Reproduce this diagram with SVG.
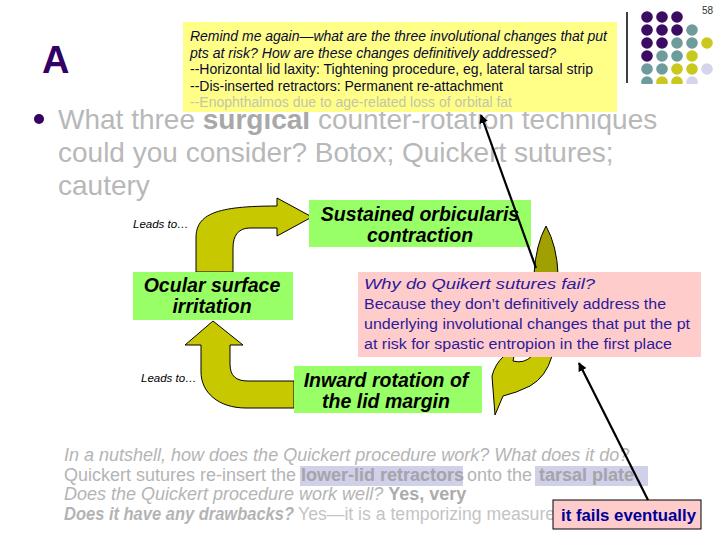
<svg xmlns="http://www.w3.org/2000/svg" width="720" height="540" viewBox="0 0 720 540">
<defs>
<style>
text{font-family:"Liberation Sans",Arial,sans-serif}
.grayt{fill:#b8b8b8}
.note{fill:#ffff88}
.pink{fill:#ffcccc}
.green{fill:#99ff66}
.gtxt{font-size:19.5px;font-weight:bold;font-style:italic;fill:#000;text-anchor:middle}
.ylw{font-size:14px;fill:#0a0a33}
.pt{font-size:15.5px;fill:#2e1a99}
.bt{font-size:18px;fill:#b4b4b4}
.arrowfill{fill:#c8c800;stroke:#000;stroke-width:1}
.dark{fill:#a0a000;stroke:#000;stroke-width:1}
.conn{stroke:#000;stroke-width:2.2;fill:none}
.lead{font-size:11.5px;font-style:italic;fill:#000}
.dP{fill:#3a0c62}.dT{fill:#6e9c9c}.dY{fill:#c8c81e}.dL{fill:#d4d4ec}
</style>
<marker id="ah" viewBox="0 0 10 10" refX="9" refY="5" markerWidth="4" markerHeight="4" orient="auto" markerUnits="strokeWidth">
<path d="M0,0 L10,5 L0,10 z" fill="#000"/>
</marker>
<clipPath id="dotclip"><rect x="630" y="0" width="90" height="84"/></clipPath>
</defs>
<rect width="720" height="540" fill="#fff"/>

<g id="page-number"><text x="702" y="14" font-size="10" fill="#333">58</text></g>

<g id="decor">
<line x1="627" y1="12" x2="627" y2="83" stroke="#000" stroke-width="1.5"/>
<g clip-path="url(#dotclip)">
<circle class="dP" cx="647" cy="17" r="5.8"/><circle class="dP" cx="662" cy="17" r="5.8"/><circle class="dP" cx="677" cy="17" r="5.8"/>
<circle class="dP" cx="647" cy="30" r="5.8"/><circle class="dP" cx="662" cy="30" r="5.8"/><circle class="dP" cx="677" cy="30" r="5.8"/><circle class="dT" cx="692" cy="30" r="5.8"/>
<circle class="dP" cx="647" cy="43" r="5.8"/><circle class="dP" cx="662" cy="43" r="5.8"/><circle class="dT" cx="677" cy="43" r="5.8"/><circle class="dT" cx="692" cy="43" r="5.8"/><circle class="dY" cx="707" cy="43" r="5.8"/>
<circle class="dP" cx="647" cy="56" r="5.8"/><circle class="dT" cx="662" cy="56" r="5.8"/><circle class="dT" cx="677" cy="56" r="5.8"/><circle class="dY" cx="692" cy="56" r="5.8"/>
<circle class="dT" cx="647" cy="69" r="5.8"/><circle class="dT" cx="662" cy="69" r="5.8"/><circle class="dY" cx="677" cy="69" r="5.8"/><circle class="dY" cx="692" cy="69" r="5.8"/><circle class="dL" cx="707" cy="69" r="5.8"/>
<circle class="dT" cx="647" cy="82" r="5.8"/><circle class="dY" cx="662" cy="82" r="5.8"/><circle class="dY" cx="677" cy="82" r="5.8"/><circle class="dL" cx="692" cy="82" r="5.8"/>
</g>
</g>

<g id="title"><text x="42" y="73" font-size="38" font-weight="bold" fill="#330066">A</text></g>

<g id="bullet">
<circle cx="39" cy="119" r="5" fill="#330066"/>
<text x="58" y="129" font-size="28" class="grayt">What three <tspan font-weight="bold" fill="#a8a8a8">surgical</tspan> counter-rotation techniques</text>
<text x="58" y="162" font-size="28" class="grayt">could you consider? Botox; Quickert sutures;</text>
<text x="58" y="195" font-size="28" class="grayt">cautery</text>
</g>

<g id="note-remind">
<rect class="note" x="183" y="22" width="434" height="90"/>
<text class="ylw" x="190" y="41" font-style="italic" textLength="417" lengthAdjust="spacingAndGlyphs">Remind me again—what are the three involutional changes that put</text>
<text class="ylw" x="190" y="57.5" font-style="italic" textLength="366" lengthAdjust="spacingAndGlyphs">pts at risk? How are these changes definitively addressed?</text>
<text class="ylw" x="190" y="74" textLength="403" lengthAdjust="spacingAndGlyphs">--Horizontal lid laxity: Tightening procedure, eg, lateral tarsal strip</text>
<text class="ylw" x="190" y="90.5" textLength="313" lengthAdjust="spacingAndGlyphs">--Dis-inserted retractors: Permanent re-attachment</text>
<text class="ylw" x="190" y="106.5" style="fill:#c4c4a8" textLength="322" lengthAdjust="spacingAndGlyphs">--Enophthalmos due to age-related loss of orbital fat</text>
</g>

<g id="connectors">
<path id="arrow-ocular-to-sustained" class="arrowfill" d="M196,272 L196,238 C196,214 216,206 277,206 L277,198 L312,217 L277,236 L277,228 L250,228 C238,228 233,236 233,248 L233,272 Z"/>
<path id="arrow-inward-to-ocular" class="arrowfill" d="M294,408 L246,408 C218,408 201,392 201,372 L201,345 L185,345 L213,321 L243,345 L230,345 L230,364 C230,376 236,381 248,381 L294,381 Z"/>
<g id="arrow-sustained-to-inward">
<path class="dark" d="M534,274 Q536,244 546,226 Q557,246 558,274 Z"/>
<path class="arrowfill" d="M504,356 L552,356 Q546,377 530,386 Q516,393 503,396 L495,415 L492,376 Q495,364 504,356 Z"/>
<path d="M514,356 L532,356 Q524,364 513,361 Z" fill="#fff" stroke="#000" stroke-width="1"/>
</g>
</g>

<g id="node-sustained">
<rect class="green" x="309" y="200" width="222" height="47"/>
<text class="gtxt" x="420" y="221">Sustained orbicularis</text>
<text class="gtxt" x="420" y="242">contraction</text>
</g>

<g id="node-ocular">
<rect class="green" x="133" y="272" width="160" height="48"/>
<text class="gtxt" x="212" y="292">Ocular surface</text>
<text class="gtxt" x="212" y="313">irritation</text>
</g>

<g id="node-inward">
<rect class="green" x="294" y="366" width="188" height="47"/>
<text class="gtxt" x="386" y="387">Inward rotation of</text>
<text class="gtxt" x="386" y="408">the lid margin</text>
</g>

<g id="labels">
<text class="lead" x="133" y="228">Leads to…</text>
<text class="lead" x="141" y="382">Leads to…</text>
</g>

<g id="note-why">
<rect class="pink" x="358" y="272" width="343" height="85"/>
<text class="pt" x="364" y="289" font-style="italic" textLength="231" lengthAdjust="spacingAndGlyphs">Why do Quikert sutures fail?</text>
<text class="pt" x="364" y="309" textLength="302" lengthAdjust="spacingAndGlyphs">Because they don’t definitively address the</text>
<text class="pt" x="364" y="329" textLength="326" lengthAdjust="spacingAndGlyphs">underlying involutional changes that put the pt</text>
<text class="pt" x="364" y="349" textLength="308" lengthAdjust="spacingAndGlyphs">at risk for spastic entropion in the first place</text>
</g>

<g id="summary">
<rect x="300" y="466" width="163" height="20" fill="#d0d0e8"/>
<rect x="535" y="466" width="113" height="20" fill="#d0d0e8"/>
<text class="bt" x="64" y="461" font-style="italic">In a nutshell, how does the Quickert procedure work? What does it do?</text>
<text class="bt" x="64" y="481">Quickert sutures re-insert the</text>
<text class="bt" x="301" y="481" font-weight="bold" style="fill:#a4a4ac">lower-lid retractors</text>
<text class="bt" x="467" y="481">onto the</text>
<text class="bt" x="539" y="481" font-weight="bold" style="fill:#a4a4ac">tarsal plate</text>
<text class="bt" x="64" y="500" font-style="italic">Does the Quickert procedure work well? <tspan font-style="normal" font-weight="bold" fill="#acacac">Yes, very</tspan></text>
<text class="bt" x="64" y="520" font-style="italic" font-weight="bold" textLength="230" lengthAdjust="spacingAndGlyphs">Does it have any drawbacks?</text>
<text class="bt" x="298" y="520" style="fill:#c4c4c4" textLength="262" lengthAdjust="spacingAndGlyphs">Yes—it is a temporizing measure;</text>
</g>

<g id="note-fails">
<rect class="pink" x="553" y="500" width="148" height="29" stroke="#000" stroke-width="1"/>
<text x="561" y="521" font-size="16" font-weight="bold" fill="#000099" textLength="135" lengthAdjust="spacingAndGlyphs">it fails eventually</text>
</g>

<g id="callout-lines">
<line class="conn" x1="536" y1="268" x2="481" y2="115" marker-end="url(#ah)"/>
<line class="conn" x1="648" y1="500" x2="579" y2="363" marker-end="url(#ah)"/>
</g>
</svg>
